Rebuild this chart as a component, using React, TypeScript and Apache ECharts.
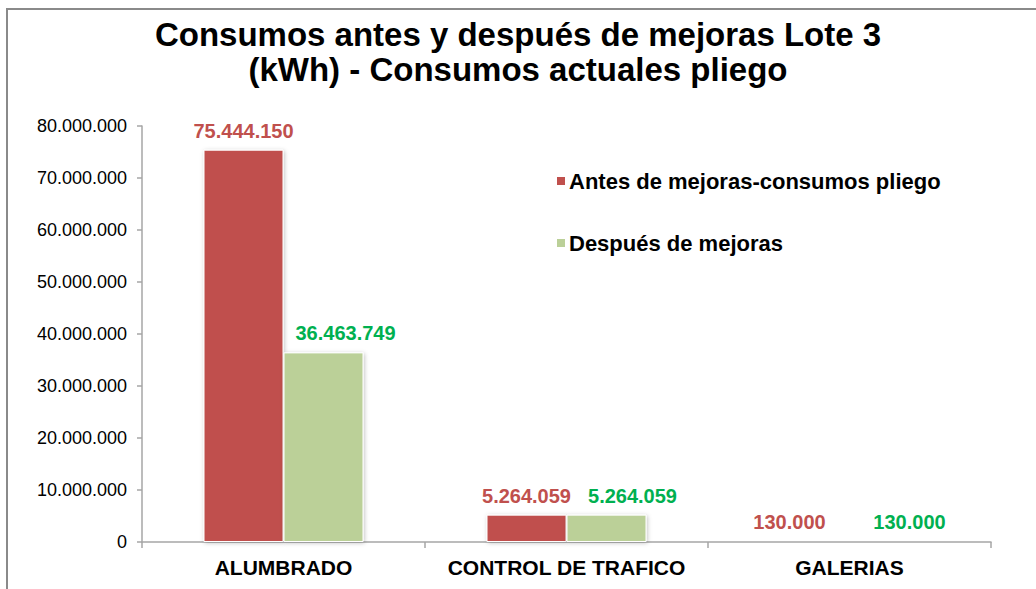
import React, { useEffect, useRef } from "react";
import * as echarts from "echarts";

const categories = ["ALUMBRADO", "CONTROL DE TRAFICO", "GALERIAS"];
const seriesNames = ["Antes de mejoras-consumos pliego", "Después de mejoras"];
const antes = [75444150, 5264059, 130000];
const despues = [36463749, 5264059, 130000];
const yMin = 0;
const yMax = 80000000;
const yInterval = 10000000;

const titleText = "Consumos antes y después de mejoras Lote 3\n(kWh) - Consumos actuales pliego";

const fmt = (v: number) => String(Math.round(v)).replace(/\B(?=(\d{3})+(?!\d))/g, ".");

// label horizontal shifts (styling only)
const antesShift = [0, 0, -20];
const despuesShift = [22, 26, 20];

export default function App() {
  const ref = useRef<HTMLDivElement>(null);
  useEffect(() => {
    document.body.style.margin = "0";
    const chart = echarts.init(ref.current!, null, { renderer: "svg" });
    const font = "'Liberation Sans', Arial, sans-serif";
    const barStyle = (color: string) => ({
      color,
      borderColor: "#ffffff",
      borderWidth: 1,
      shadowBlur: 4,
      shadowColor: "rgba(0,0,0,0.25)",
      shadowOffsetX: 1,
      shadowOffsetY: 1,
    });
    chart.setOption({
      animation: false,
      backgroundColor: "#ffffff",
      textStyle: { fontFamily: font },
      graphic: [
        {
          type: "rect",
          z: -10,
          silent: true,
          shape: { x: 7, y: 9, width: 1200, height: 800 },
          style: { fill: "none", stroke: "#8a8a8a", lineWidth: 2 },
        },
      ],
      title: {
        text: titleText,
        left: "center",
        top: 12,
        textStyle: {
          fontFamily: font,
          fontSize: 33,
          fontWeight: "bold",
          color: "#000000",
          lineHeight: 35,
        },
      },
      legend: {
        orient: "vertical",
        left: 550,
        top: 165,
        itemWidth: 10,
        itemHeight: 10,
        itemGap: 40,
        icon: "rect",
        textStyle: {
          fontFamily: font,
          fontSize: 22,
          fontWeight: "bold",
          color: "#000000",
          lineHeight: 20,
          padding: [0, 0, 0, -2],
        },
        data: seriesNames,
      },
      grid: { left: 142, right: 45, top: 126, bottom: 47, containLabel: false },
      xAxis: {
        type: "category",
        data: categories,
        axisLine: { lineStyle: { color: "#a6a6a6", width: 1.5 } },
        axisTick: { show: true, length: 6, lineStyle: { color: "#a6a6a6", width: 1.5 } },
        axisLabel: {
          interval: 0,
          margin: 15,
          fontFamily: font,
          fontSize: 21,
          fontWeight: "bold",
          color: "#000000",
        },
      },
      yAxis: {
        type: "value",
        min: yMin,
        max: yMax,
        interval: yInterval,
        splitLine: { show: false },
        axisLine: { show: true, lineStyle: { color: "#a6a6a6", width: 1.5 } },
        axisTick: { show: true, length: 5, lineStyle: { color: "#a6a6a6", width: 1.5 } },
        axisLabel: {
          margin: 15,
          fontFamily: font,
          fontSize: 18,
          color: "#000000",
          formatter: (v: number) => fmt(v),
        },
      },
      series: [
        {
          name: seriesNames[0],
          type: "bar",
          barWidth: 80,
          barGap: "0%",
          itemStyle: barStyle("#C0504D"),
          label: {
            show: true,
            position: "top",
            distance: 9,
            fontFamily: font,
            fontSize: 20,
            fontWeight: "bold",
            color: "#C0504D",
            formatter: (p: any) => fmt(p.value),
          },
          data: antes.map((v, i) => ({ value: v, label: { offset: [antesShift[i], 0] } })),
        },
        {
          name: seriesNames[1],
          type: "bar",
          barWidth: 80,
          barGap: "0%",
          itemStyle: barStyle("#BBD098"),
          label: {
            show: true,
            position: "top",
            distance: 9,
            fontFamily: font,
            fontSize: 20,
            fontWeight: "bold",
            color: "#00B050",
            formatter: (p: any) => fmt(p.value),
          },
          data: despues.map((v, i) => ({ value: v, label: { offset: [despuesShift[i], 0] } })),
        },
      ],
    });
    return () => chart.dispose();
  }, []);
  return <div ref={ref} style={{ width: 1036, height: 589 }} />;
}
